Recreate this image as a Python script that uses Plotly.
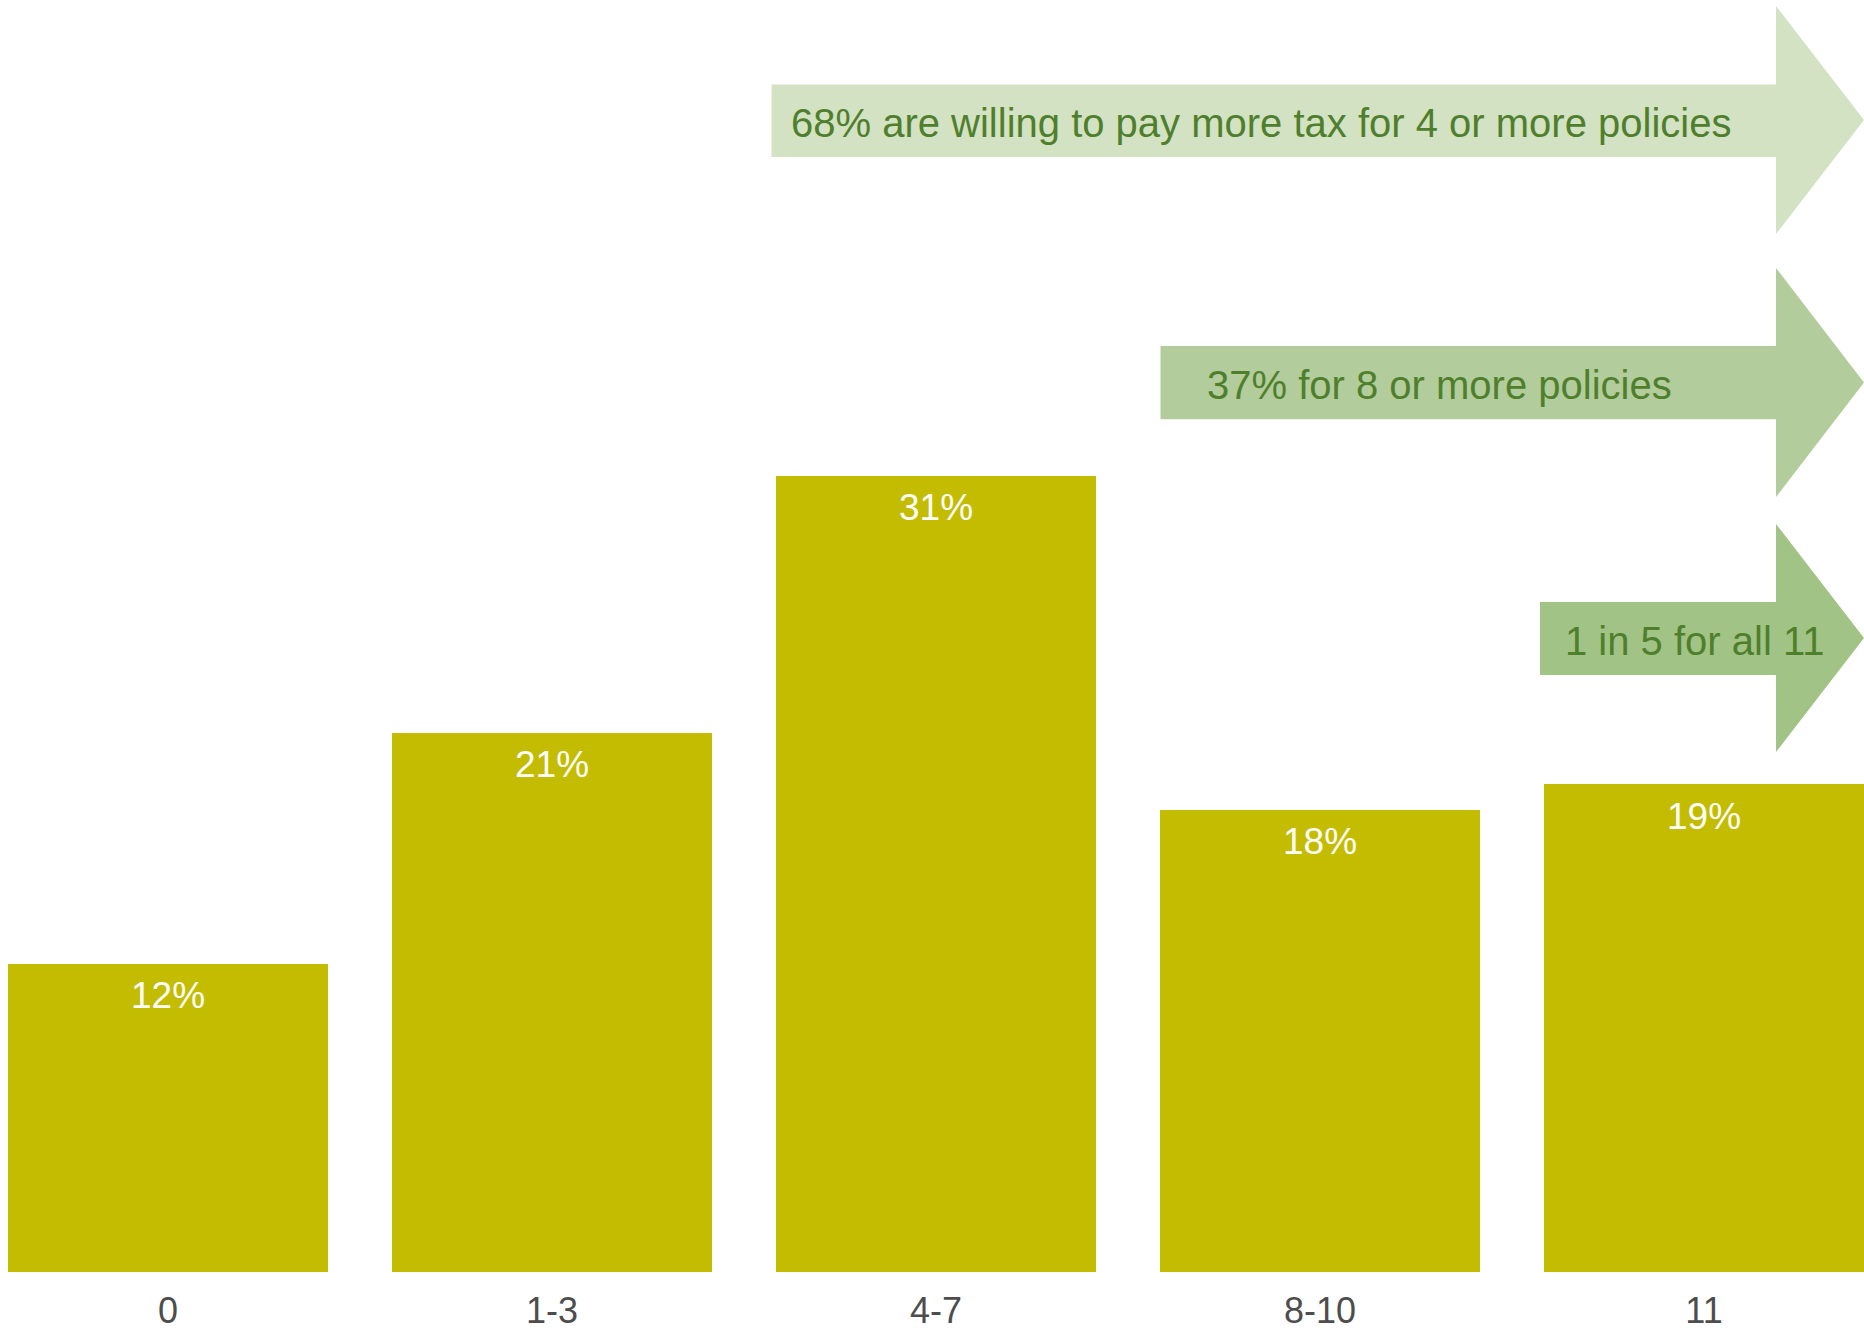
import plotly.graph_objects as go

categories = ["0", "1-3", "4-7", "8-10", "11"]
values = [12, 21, 31, 18, 19]
value_labels = ["12%", "21%", "31%", "18%", "19%"]

arrow_texts = [
    "68% are willing to pay more tax for 4 or more policies",
    "37% for 8 or more policies",
    "1 in 5 for all 11",
]

W, H = 1864, 1330
MB = 58
PH = H - MB  # plot height in px

def px(x):
    return x / W

def py(y):
    return 1 - y / PH

BAR_COLOR = "#c4bc00"
TEXT_GREEN = "#4f7f2c"
ARROW_COLORS = ["#d3e2c3", "#b2cd9b", "#a2c386"]

# arrow geometry in pixels: (left, head_x, tip_x, band_top, band_bot, head_top, head_bot, text_x, text_y)
arrow_geo = [
    (771.5, 1776, 1864, 84.4, 157, 6, 234, 789, 123),
    (1160.5, 1776, 1864, 346, 419.3, 268, 497, 1205, 385),
    (1540, 1776, 1864, 602, 675, 524, 752, 1563, 641),
]

x_pos = list(range(len(categories)))

fig = go.Figure()
fig.add_trace(go.Bar(
    x=x_pos, y=values, marker=dict(color=BAR_COLOR, line=dict(width=0)),
    width=0.833, hoverinfo="skip",
))

shapes = []
annotations = []
for (x0, xh, xt, bt, bb, ht, hb, tx, ty), col, txt in zip(arrow_geo, ARROW_COLORS, arrow_texts):
    ym = (ht + hb) / 2
    path = (f"M {px(x0)},{py(bt)} L {px(xh)},{py(bt)} L {px(xh)},{py(ht)} "
            f"L {px(xt)},{py(ym)} L {px(xh)},{py(hb)} L {px(xh)},{py(bb)} "
            f"L {px(x0)},{py(bb)} Z")
    shapes.append(dict(type="path", path=path, xref="paper", yref="paper",
                       fillcolor=col, line=dict(width=0), layer="above"))
    annotations.append(dict(x=px(tx), y=py(ty), xref="paper", yref="paper",
                            text=txt, showarrow=False, xanchor="left", yanchor="middle",
                            font=dict(family="Liberation Sans", size=40, color=TEXT_GREEN)))

for xi, v, lab in zip(x_pos, values, value_labels):
    annotations.append(dict(x=xi, y=v, xref="x", yref="y", text=lab, showarrow=False,
                            xanchor="center", yanchor="middle", yshift=-32,
                            font=dict(family="Liberation Sans", size=37, color="white")))

fig.update_layout(
    width=W, height=H,
    margin=dict(l=0, r=0, t=0, b=MB, autoexpand=False),
    paper_bgcolor="white", plot_bgcolor="white",
    showlegend=False,
    bargap=0,
    shapes=shapes,
    annotations=annotations,
    xaxis=dict(range=[-0.4375, 4.4167], tickmode="array", tickvals=x_pos, ticktext=categories,
               showgrid=False, zeroline=False, showline=False, ticks="",
               tickfont=dict(family="Liberation Sans", size=36, color="#4d4d4d"),
               ticklabelstandoff=14, automargin=False, fixedrange=True),
    yaxis=dict(range=[0, PH / 25.68], showgrid=False, zeroline=False, showline=False,
               showticklabels=False, ticks="", automargin=False, fixedrange=True),
)

fig.write_html("out.html", config={"displayModeBar": False})
